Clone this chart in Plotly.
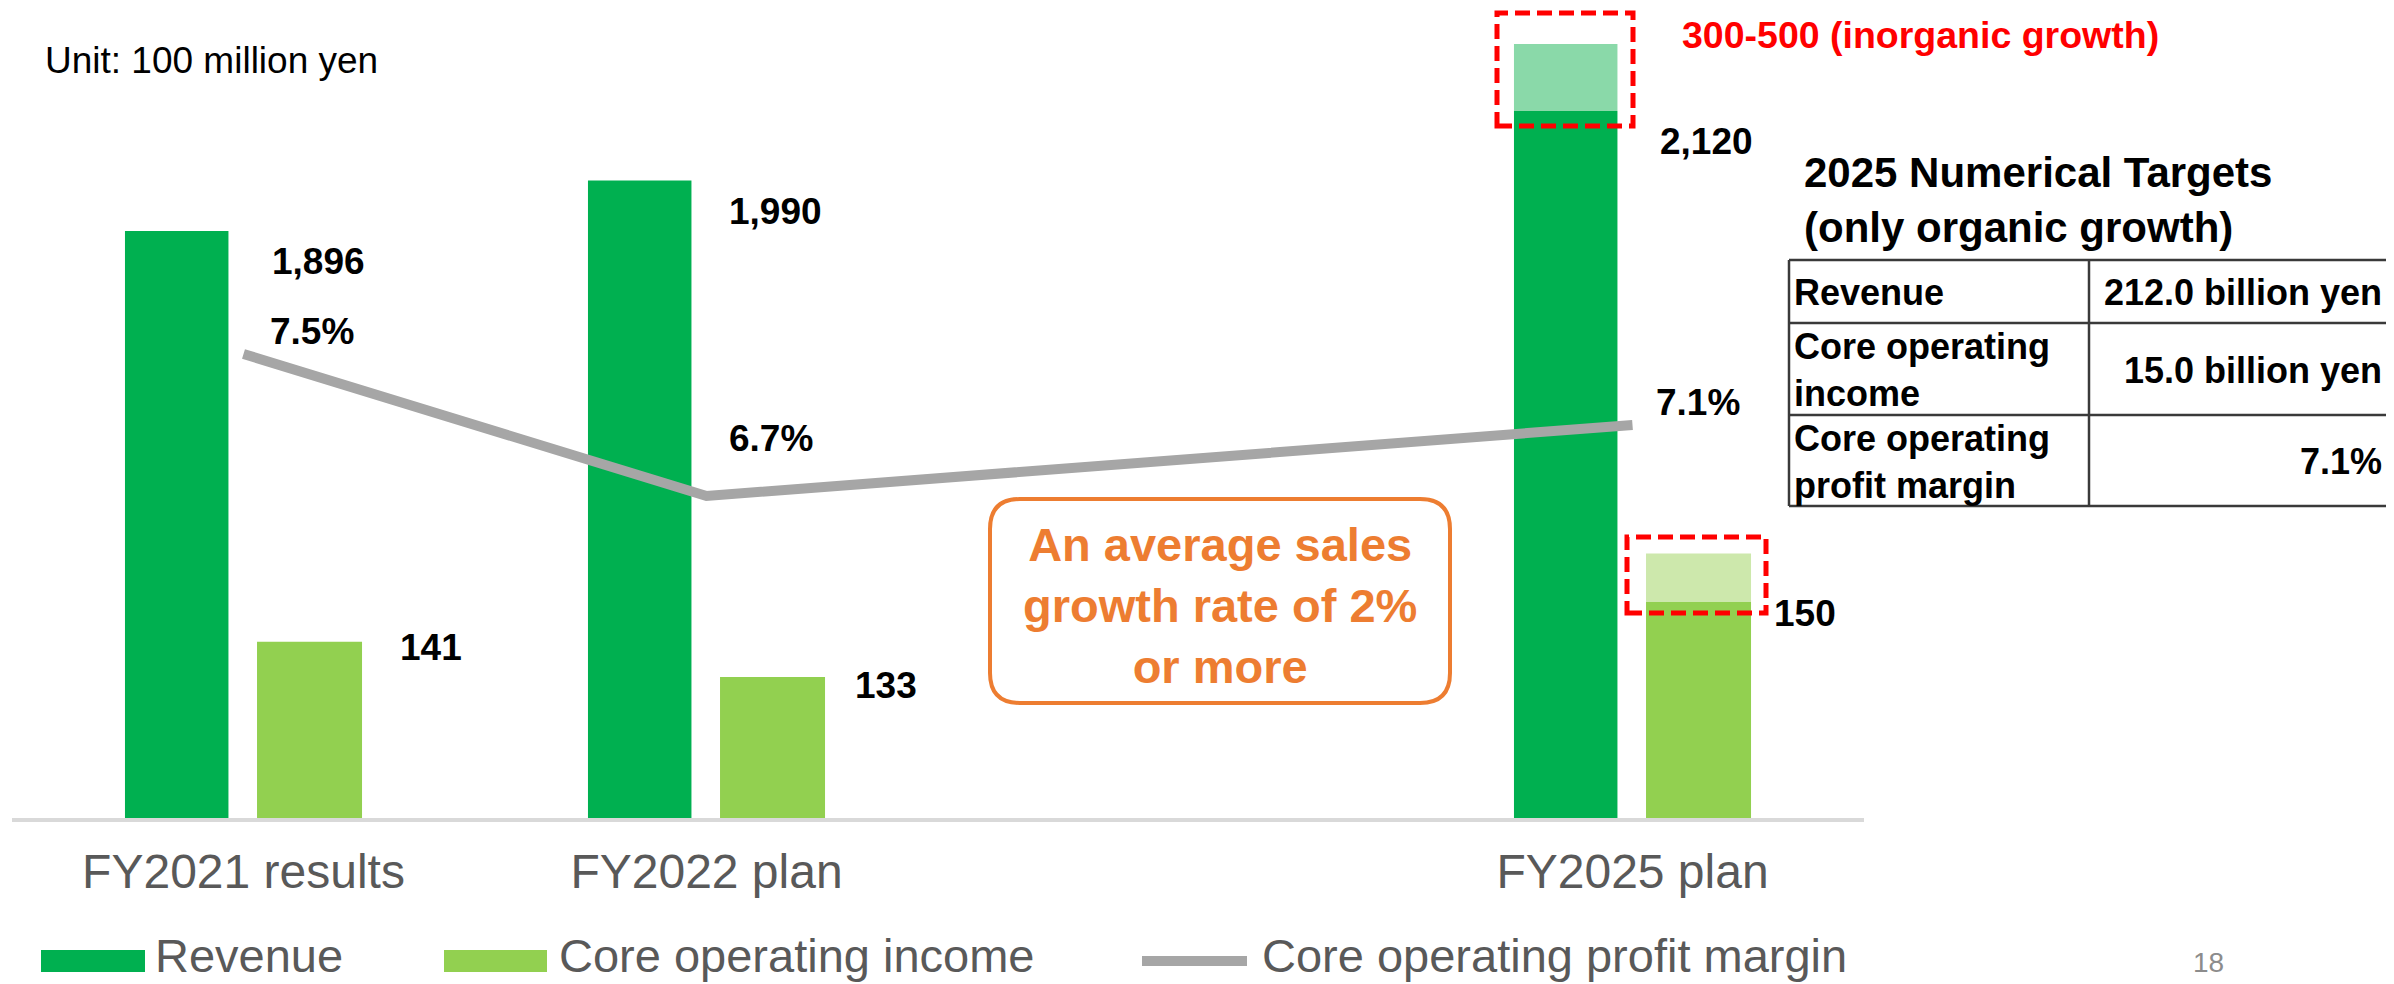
import plotly.graph_objects as go

# page is drawn 8px in from the top-left (default body margin), so the figure is a bit smaller
PAGE_W, PAGE_H, OFF = 2394, 984, 8
W, H = PAGE_W - OFF, PAGE_H - OFF

# chart data (100 million yen / %)
categories = ["FY2021 results", "FY2022 plan", " ", "FY2025 plan"]
revenue = [1896, 1990, None, 2120]
revenue_inorganic = [None, None, None, 125]   # light add-on drawn for the 300-500 inorganic part
core_income = [141, 133, None, 150]
core_inorganic = [None, None, None, 11]
margin = [7.5, 6.7, None, 7.1]

series_names = ["Revenue", "Core operating income", "Core operating profit margin"]

target_items = ["Revenue", "Core operating<br>income", "Core operating<br>profit margin"]
target_values = ["212.0 billion yen", "15.0 billion yen", "7.1%"]

REV = "#00B050"
REV_LIGHT = "#8AD9A9"
CORE = "#92D050"
CORE_LIGHT = "#CDE8AC"
LINE = "#A6A6A6"
ORANGE = "#ED7D31"
FONT = "Arial, Liberation Sans, sans-serif"


def px(x):
    return (x - OFF) / W


def py(y):
    return 1 - (y - OFF) / H


# bar placement inside each category slot (category units)
rev_off, rev_w = -0.256, 0.2235
core_off, core_w = 0.0292, 0.2268

fig = go.Figure()
fig.add_trace(go.Bar(x=categories, y=revenue, name=series_names[0], marker=dict(color=REV, line_width=0),
                     offset=rev_off, width=rev_w, yaxis="y"))
fig.add_trace(go.Bar(x=categories, y=revenue_inorganic, base=revenue, marker=dict(color=REV_LIGHT, line_width=0),
                     offset=rev_off, width=rev_w, yaxis="y", showlegend=False))
fig.add_trace(go.Bar(x=categories, y=core_income, name=series_names[1], marker=dict(color=CORE, line_width=0),
                     offset=core_off, width=core_w, yaxis="y2"))
fig.add_trace(go.Bar(x=categories, y=core_inorganic, base=core_income, marker=dict(color=CORE_LIGHT, line_width=0),
                     offset=core_off, width=core_w, yaxis="y2", showlegend=False))
fig.add_trace(go.Scatter(x=categories, y=margin, name=series_names[2], mode="lines", connectgaps=True,
                         line=dict(color=LINE, width=10), yaxis="y3"))

ann = []
shapes = []

# data labels
rev_dx = [26, 20, 0, 25]
core_dx = [154, 146, 0, 139]
core_dy = [-6, -9, 0, -11]
mar_dx = [24, 20, 0, 21]
mar_dy = [23, 58, 0, 23]
for i, c in enumerate(categories):
    if revenue[i] is not None:
        ann.append(dict(x=c, y=revenue[i], xref="x", yref="y", text=f"<b>{revenue[i]:,}</b>",
                        xanchor="left", yanchor="middle", xshift=rev_dx[i], yshift=-31,
                        showarrow=False, font=dict(size=37, color="black")))
    if core_income[i] is not None:
        ann.append(dict(x=c, y=core_income[i], xref="x", yref="y2", text=f"<b>{core_income[i]:,}</b>",
                        xanchor="left", yanchor="middle", xshift=core_dx[i], yshift=core_dy[i],
                        showarrow=False, font=dict(size=37, color="black")))
    if margin[i] is not None:
        ann.append(dict(x=c, y=margin[i], xref="x", yref="y3", text=f"<b>{margin[i]}%</b>",
                        xanchor="left", yanchor="middle", xshift=mar_dx[i], yshift=mar_dy[i],
                        showarrow=False, font=dict(size=37, color="black")))

# unit note and inorganic note
ann.append(dict(x=px(43), y=py(61), xref="paper", yref="paper", text="Unit: 100 million yen",
                xanchor="left", yanchor="middle", showarrow=False, font=dict(size=37, color="black")))
ann.append(dict(x=px(1680), y=py(35), xref="paper", yref="paper", text="<b>300-500 (inorganic growth)</b>",
                xanchor="left", yanchor="middle", showarrow=False, font=dict(size=37.5, color="#FF0000")))

# dashed boxes around the inorganic add-ons
for x0, y0, x1, y1 in [(1497, 13, 1633, 126), (1627, 537, 1766, 613)]:
    shapes.append(dict(type="rect", xref="paper", yref="paper", x0=px(x0), x1=px(x1), y0=py(y1), y1=py(y0),
                       line=dict(color="#FF0000", width=5, dash="15px,7px"), fillcolor="rgba(0,0,0,0)"))

# rounded callout box
bx0, by0, bx1, by1, r = 990, 499, 1450, 703, 30
rx, ry = r / W, r / H
path = (f"M {px(bx0) + rx},{py(by0)} L {px(bx1) - rx},{py(by0)} "
        f"Q {px(bx1)},{py(by0)} {px(bx1)},{py(by0) - ry} L {px(bx1)},{py(by1) + ry} "
        f"Q {px(bx1)},{py(by1)} {px(bx1) - rx},{py(by1)} L {px(bx0) + rx},{py(by1)} "
        f"Q {px(bx0)},{py(by1)} {px(bx0)},{py(by1) + ry} L {px(bx0)},{py(by0) - ry} "
        f"Q {px(bx0)},{py(by0)} {px(bx0) + rx},{py(by0)} Z")
shapes.append(dict(type="path", xref="paper", yref="paper", path=path,
                   line=dict(color=ORANGE, width=4), fillcolor="white"))
ann.append(dict(x=px((bx0 + bx1) / 2), y=py(605), xref="paper", yref="paper",
                text="<b>An average sales<br>growth rate of 2%<br>or more</b>", align="center",
                xanchor="center", yanchor="middle", showarrow=False, font=dict(size=47, color=ORANGE)))

# targets table
ann.append(dict(x=px(1802), y=py(200), xref="paper", yref="paper",
                text="<b>2025 Numerical Targets<br>(only organic growth)</b>", align="left",
                xanchor="left", yanchor="middle", showarrow=False, font=dict(size=42, color="black")))
tx0, tx_mid, tx1 = 1789, 2089, 2388
rows = [260, 323, 415, 506]
for yline in rows:
    shapes.append(dict(type="line", xref="paper", yref="paper", x0=px(tx0), x1=px(tx1), y0=py(yline), y1=py(yline),
                       line=dict(color="#3A3A3A", width=2.5)))
for xline in [tx0, tx_mid, tx1]:
    shapes.append(dict(type="line", xref="paper", yref="paper", x0=px(xline), x1=px(xline), y0=py(rows[0]), y1=py(rows[-1]),
                       line=dict(color="#3A3A3A", width=2.5)))
for k, (item, val) in enumerate(zip(target_items, target_values)):
    yc = (rows[k] + rows[k + 1]) / 2 + 1
    ann.append(dict(x=px(tx0 + 3), y=py(yc), xref="paper", yref="paper", text=f"<b>{item}</b>", align="left",
                    xanchor="left", yanchor="middle", showarrow=False, font=dict(size=36, color="black")))
    ann.append(dict(x=px(tx1 - 4), y=py(yc), xref="paper", yref="paper", text=f"<b>{val}</b>", align="right",
                    xanchor="right", yanchor="middle", showarrow=False, font=dict(size=36, color="black")))

# legend drawn by hand to get the wide swatches
leg_y = 961
shapes.append(dict(type="rect", xref="paper", yref="paper", x0=px(41), x1=px(145), y0=py(972), y1=py(950),
                   line_width=0, fillcolor=REV))
shapes.append(dict(type="rect", xref="paper", yref="paper", x0=px(444), x1=px(547), y0=py(972), y1=py(950),
                   line_width=0, fillcolor=CORE))
shapes.append(dict(type="line", xref="paper", yref="paper", x0=px(1142), x1=px(1247), y0=py(leg_y), y1=py(leg_y),
                   line=dict(color=LINE, width=10)))
for name, lx in zip(series_names, [153, 557, 1260]):
    ann.append(dict(x=px(lx), y=py(955), xref="paper", yref="paper", text=name,
                    xanchor="left", yanchor="middle", showarrow=False, font=dict(size=47, color="#595959")))

ann.append(dict(x=px(2208), y=py(962), xref="paper", yref="paper", text="18",
                xanchor="center", yanchor="middle", showarrow=False, font=dict(size=28, color="#8C8C8C")))

fig.update_layout(
    width=W, height=H,
    margin=dict(l=0, r=0, t=0, b=0),
    paper_bgcolor="white", plot_bgcolor="white",
    showlegend=False, barmode="overlay",
    font=dict(family=FONT, color="black"),
    xaxis=dict(domain=[px(12), px(1864)], type="category", categoryorder="array", categoryarray=categories,
               range=[-0.5, 3.5], showline=True, linecolor="#D9D9D9", linewidth=4, ticks="",
               showgrid=False, tickfont=dict(size=48, color="#595959"), ticklabelstandoff=8),
    yaxis=dict(domain=[py(818), py(10)], range=[800.2, 2308.5], visible=False),
    yaxis2=dict(overlaying="y", range=[101.0, 284.3], visible=False),
    yaxis3=dict(overlaying="y", range=[4.886, 9.438], visible=False),
    annotations=ann,
    shapes=shapes,
)

fig.write_html("out.html")
